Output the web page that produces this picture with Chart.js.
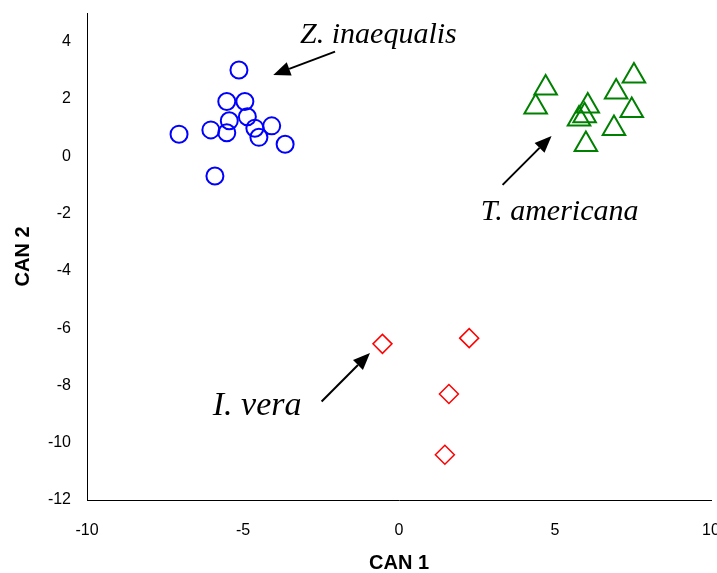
<!DOCTYPE html>
<html>
<head>
<meta charset="utf-8">
<script src="https://cdn.jsdelivr.net/npm/chart.js@4/dist/chart.umd.min.js"></script>
<style>
  html, body { margin: 0; padding: 0; background: #fff; overflow: hidden; }
  #wrap { width: 717px; height: 573px; }
</style>
</head>
<body>
<div id="wrap"><canvas id="c" width="717" height="573"></canvas></div>
<script>
// Canonical discriminant scores (CAN 1, CAN 2) per species
const zInaequalisX = [-5.13, -5.52, -4.94, -5.44, -4.86, -6.03, -5.52, -4.62, -4.49, -4.08, -3.65, -7.05, -5.90];
const zInaequalisY = [3.01, 1.91, 1.91, 1.24, 1.38, 0.92, 0.82, 0.98, 0.66, 1.06, 0.42, 0.77, -0.69];

const tAmericanaX = [4.70, 4.38, 6.05, 5.95, 5.77, 6.96, 7.53, 7.46, 6.89, 5.99];
const tAmericanaY = [2.38, 1.72, 1.75, 1.41, 1.30, 2.24, 2.80, 1.60, 0.97, 0.41];

const iVeraX = [-0.53, 2.25, 1.60, 1.47];
const iVeraY = [-6.55, -6.35, -8.30, -10.42];

// Axis ticks
const xTicks = [-10, -5, 0, 5, 10];
const yTicks = [-12, -10, -8, -6, -4, -2, 0, 2, 4];

// Species labels: text, anchor (data units), arrow from -> to (data units)
const labelText = ['Z. inaequalis', 'T. americana', 'I. vera'];
const labelX = [-3.17, 2.62, -5.97];
const labelY = [3.95, -2.22, -9.02];
const labelSize = [30, 30, 34];
const arrowFromX = [-2.05, 3.32, -2.48];
const arrowFromY = [3.65, -1.00, -8.56];
const arrowToX = [-4.03, 4.89, -0.93];
const arrowToY = [2.84, 0.71, -6.87];

const toPoints = (xs, ys) => xs.map((x, i) => ({ x: x, y: ys[i] }));

const speciesLabels = {
  id: 'speciesLabels',
  afterDatasetsDraw(chart) {
    const ctx = chart.ctx;
    const sx = chart.scales.x, sy = chart.scales.y;
    ctx.save();
    ctx.fillStyle = '#000';
    ctx.strokeStyle = '#000';
    for (let i = 0; i < labelText.length; i++) {
      // arrow shaft
      const x1 = sx.getPixelForValue(arrowFromX[i]);
      const y1 = sy.getPixelForValue(arrowFromY[i]);
      const x2 = sx.getPixelForValue(arrowToX[i]);
      const y2 = sy.getPixelForValue(arrowToY[i]);
      const ang = Math.atan2(y2 - y1, x2 - x1);
      const headLen = 17, headHalf = 7;
      const bx = x2 - headLen * Math.cos(ang);
      const by = y2 - headLen * Math.sin(ang);
      ctx.lineWidth = 2;
      ctx.beginPath();
      ctx.moveTo(x1, y1);
      ctx.lineTo(bx, by);
      ctx.stroke();
      // arrow head
      ctx.beginPath();
      ctx.moveTo(x2, y2);
      ctx.lineTo(bx + headHalf * Math.sin(ang), by - headHalf * Math.cos(ang));
      ctx.lineTo(bx - headHalf * Math.sin(ang), by + headHalf * Math.cos(ang));
      ctx.closePath();
      ctx.fill();
      // label
      ctx.font = 'italic ' + labelSize[i] + 'px "Liberation Serif", "Times New Roman", serif';
      ctx.textAlign = 'left';
      ctx.textBaseline = 'alphabetic';
      ctx.fillText(labelText[i], sx.getPixelForValue(labelX[i]), sy.getPixelForValue(labelY[i]));
    }
    ctx.restore();
  }
};

new Chart(document.getElementById('c'), {
  type: 'scatter',
  data: {
    datasets: [
      {
        label: 'Z. inaequalis',
        data: toPoints(zInaequalisX, zInaequalisY),
        pointStyle: 'circle',
        pointRadius: 8.5,
        pointBorderWidth: 2,
        borderColor: '#0000FF',
        backgroundColor: 'rgba(0,0,0,0)'
      },
      {
        label: 'T. americana',
        data: toPoints(tAmericanaX, tAmericanaY),
        pointStyle: 'triangle',
        pointRadius: 13,
        pointBorderWidth: 2,
        borderColor: '#008000',
        backgroundColor: 'rgba(0,0,0,0)'
      },
      {
        label: 'I. vera',
        data: toPoints(iVeraX, iVeraY),
        pointStyle: 'rectRot',
        pointRadius: 9.5,
        pointBorderWidth: 1.5,
        borderColor: '#FF0000',
        backgroundColor: 'rgba(0,0,0,0)'
      }
    ]
  },
  options: {
    responsive: false,
    animation: false,
    clip: false,
    layout: { autoPadding: false, padding: { top: 13, right: 6, left: 0, bottom: 0 } },
    plugins: {
      legend: { display: false },
      tooltip: { enabled: false }
    },
    scales: {
      x: {
        type: 'linear',
        min: -10,
        max: 10,
        afterBuildTicks(scale) { scale.ticks = xTicks.map(v => ({ value: v })); },
        afterFit(scale) { scale.height = 73; scale.paddingLeft = 0; scale.paddingRight = 0; },
        grid: { display: false, drawTicks: false, tickLength: 0 },
        border: { display: true, color: '#000', width: 1 },
        ticks: {
          color: '#000',
          padding: 21,
          maxRotation: 0,
          font: { family: '"Liberation Sans", Arial, sans-serif', size: 16 }
        },
        title: {
          display: true,
          text: 'CAN 1',
          color: '#000',
          padding: { top: 0, bottom: 0 },
          font: { family: '"Liberation Sans", Arial, sans-serif', size: 20, weight: 'bold', lineHeight: 1 }
        }
      },
      y: {
        type: 'linear',
        min: -12,
        max: 5,
        afterBuildTicks(scale) { scale.ticks = yTicks.map(v => ({ value: v })); },
        afterFit(scale) { scale.width = 87; scale.paddingTop = 0; scale.paddingBottom = 0; },
        grid: { display: false, drawTicks: false, tickLength: 0 },
        border: { display: true, color: '#000', width: 1 },
        ticks: {
          color: '#000',
          padding: 16,
          font: { family: '"Liberation Sans", Arial, sans-serif', size: 16 }
        },
        title: {
          display: true,
          text: 'CAN 2',
          color: '#000',
          padding: { top: 13, bottom: 0 },
          font: { family: '"Liberation Sans", Arial, sans-serif', size: 20, weight: 'bold', lineHeight: 1 }
        }
      }
    }
  },
  plugins: [speciesLabels]
});
</script>
</body>
</html>
